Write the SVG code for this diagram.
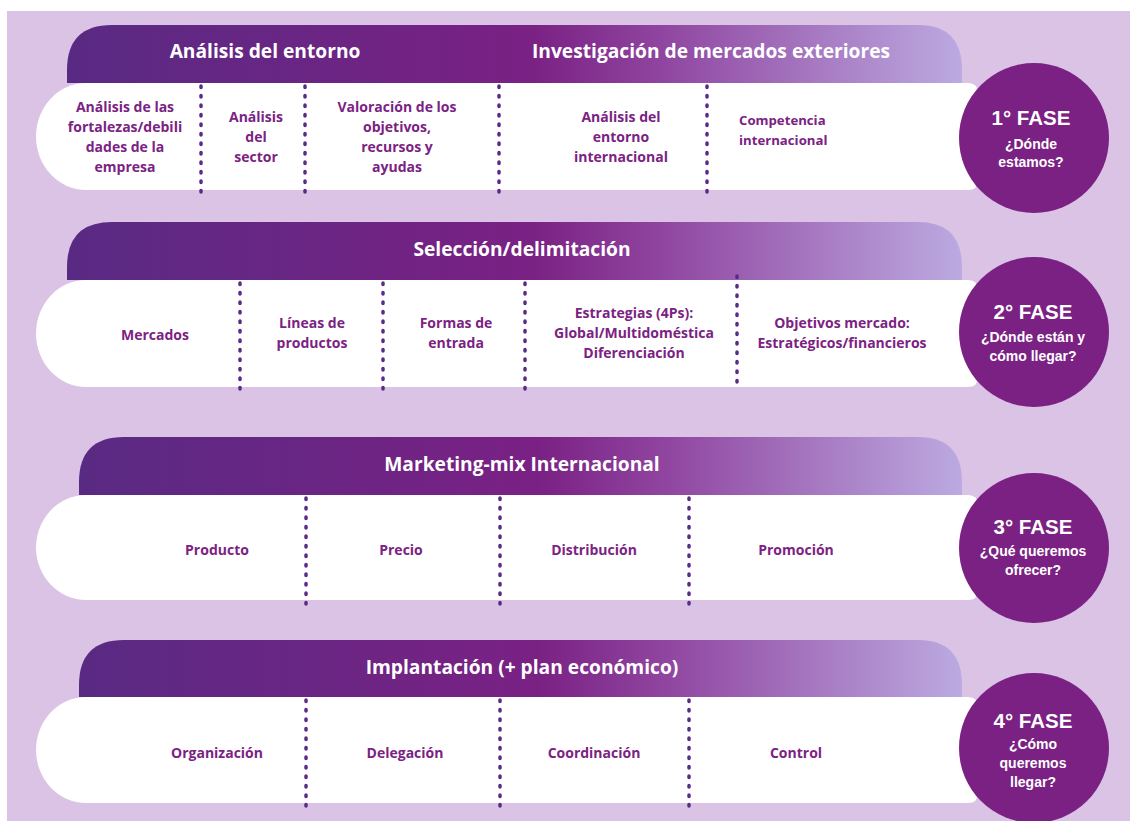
<svg xmlns="http://www.w3.org/2000/svg" width="1130" height="821" viewBox="0 0 1130 821">
<defs>
<linearGradient id="bannerGrad" x1="0" y1="0" x2="1" y2="0">
<stop offset="0" stop-color="#592a83"/>
<stop offset="0.52" stop-color="#7a2184"/>
<stop offset="0.66" stop-color="#8f449f"/>
<stop offset="1" stop-color="#bcaae1"/>
</linearGradient>
<style>
.bg{fill:#dac3e5}
.banner{fill:url(#bannerGrad)}
.pill{fill:#ffffff}
.circ{fill:#7a2183}
.div{stroke:#5a2a86;stroke-width:3.5;stroke-linecap:round;stroke-dasharray:1.5 8;fill:none}
.bt{font-family:"Open Sans","Liberation Sans",sans-serif;font-weight:700;font-size:19.2px;fill:#ffffff;text-anchor:middle}
.it{font-family:"Open Sans","Liberation Sans",sans-serif;font-weight:700;font-size:14px;fill:#7b2283;text-anchor:middle}
.ct{font-family:"Liberation Sans",Arial,sans-serif;font-weight:700;font-size:20.5px;fill:#ffffff;text-anchor:middle}
.cs{font-family:"Liberation Sans",Arial,sans-serif;font-weight:700;font-size:14px;fill:#ffffff;text-anchor:middle}
</style>
</defs>
<rect class="bg" x="7" y="11" width="1123" height="810"/>

<g id="fase1">
<path class="banner" d="M67,83 L67,70 Q67,25 112,25 L918,25 Q962,25 962,70 L962,83 Z"/>
<path class="pill" d="M86,83 L968,83 Q978,83 978,93 L978,180 Q978,190 968,190 L86,190 A50,53.5 0 0 1 86,83 Z"/>
<text class="bt" x="265" y="58">Análisis del entorno</text>
<text class="bt" x="711" y="58">Investigación de mercados exteriores</text>
<text class="it" x="125" y="112">Análisis de las</text>
<text class="it" x="125" y="132">fortalezas/debili</text>
<text class="it" x="125" y="152">dades de la</text>
<text class="it" x="125" y="172">empresa</text>
<text class="it" x="256" y="122">Análisis</text>
<text class="it" x="256" y="142">del</text>
<text class="it" x="256" y="162">sector</text>
<text class="it" x="397" y="112">Valoración de los</text>
<text class="it" x="397" y="132">objetivos,</text>
<text class="it" x="397" y="152">recursos y</text>
<text class="it" x="397" y="172">ayudas</text>
<text class="it" x="621" y="122">Análisis del</text>
<text class="it" x="621" y="142">entorno</text>
<text class="it" x="621" y="162">internacional</text>
<text class="it" x="739" y="125" style="text-anchor:start;font-size:13.2px">Competencia</text>
<text class="it" x="739" y="145" style="text-anchor:start;font-size:13.2px">internacional</text>
<circle class="circ" cx="1034" cy="138" r="75"/>
<text class="ct" x="1031" y="125">1° FASE</text>
<text class="cs" x="1031" y="149">¿Dónde</text>
<text class="cs" x="1031" y="167">estamos?</text>
</g>

<g id="fase2">
<path class="banner" d="M67,280 L67,267 Q67,222 112,222 L918,222 Q962,222 962,267 L962,280 Z"/>
<path class="pill" d="M86,280 L968,280 Q978,280 978,290 L978,377 Q978,387 968,387 L86,387 A50,53.5 0 0 1 86,280 Z"/>
<text class="bt" x="522" y="256">Selección/delimitación</text>
<text class="it" x="155" y="340">Mercados</text>
<text class="it" x="312" y="328">Líneas de</text>
<text class="it" x="312" y="348">productos</text>
<text class="it" x="456" y="328">Formas de</text>
<text class="it" x="456" y="348">entrada</text>
<text class="it" x="634" y="318">Estrategias (4Ps):</text>
<text class="it" x="634" y="338">Global/Multidoméstica</text>
<text class="it" x="634" y="358">Diferenciación</text>
<text class="it" x="842" y="328">Objetivos mercado:</text>
<text class="it" x="842" y="348">Estratégicos/financieros</text>
<circle class="circ" cx="1034" cy="332" r="75"/>
<text class="ct" x="1033" y="319">2° FASE</text>
<text class="cs" x="1033" y="342">¿Dónde están y</text>
<text class="cs" x="1033" y="361">cómo llegar?</text>
</g>

<g id="fase3">
<path class="banner" d="M79,495 L79,482 Q79,437 124,437 L918,437 Q962,437 962,482 L962,495 Z"/>
<path class="pill" d="M86,495 L968,495 Q978,495 978,505 L978,590 Q978,600 968,600 L86,600 A50,52.5 0 0 1 86,495 Z"/>
<text class="bt" x="522" y="471">Marketing-mix Internacional</text>
<text class="it" x="217" y="555">Producto</text>
<text class="it" x="401" y="555">Precio</text>
<text class="it" x="594" y="555">Distribución</text>
<text class="it" x="796" y="555">Promoción</text>
<circle class="circ" cx="1034" cy="548" r="75"/>
<text class="ct" x="1033" y="534">3° FASE</text>
<text class="cs" x="1033" y="556">¿Qué queremos</text>
<text class="cs" x="1033" y="575">ofrecer?</text>
</g>

<g id="fase4">
<path class="banner" d="M79,697 L79,685 Q79,640 124,640 L918,640 Q962,640 962,685 L962,697 Z"/>
<path class="pill" d="M86,697 L968,697 Q978,697 978,707 L978,793 Q978,803 968,803 L86,803 A50,53 0 0 1 86,697 Z"/>
<text class="bt" x="522" y="674">Implantación (+ plan económico)</text>
<text class="it" x="217" y="758">Organización</text>
<text class="it" x="405" y="758">Delegación</text>
<text class="it" x="594" y="758">Coordinación</text>
<text class="it" x="796" y="758">Control</text>
<circle class="circ" cx="1034" cy="748" r="75"/>
<text class="ct" x="1033" y="728">4° FASE</text>
<text class="cs" x="1033" y="749">¿Cómo</text>
<text class="cs" x="1033" y="768">queremos</text>
<text class="cs" x="1033" y="787">llegar?</text>
</g>

<g id="connectors">
<line class="div" x1="201" y1="86" x2="201" y2="192"/>
<line class="div" x1="305" y1="86" x2="305" y2="192"/>
<line class="div" x1="499" y1="86" x2="499" y2="192"/>
<line class="div" x1="707" y1="86" x2="707" y2="192"/>
<line class="div" x1="240" y1="283" x2="240" y2="389"/>
<line class="div" x1="383" y1="283" x2="383" y2="389"/>
<line class="div" x1="525" y1="283" x2="525" y2="389"/>
<line class="div" x1="737" y1="276" x2="737" y2="386"/>
<line class="div" x1="306" y1="498" x2="306" y2="604"/>
<line class="div" x1="500" y1="498" x2="500" y2="604"/>
<line class="div" x1="689" y1="498" x2="689" y2="604"/>
<line class="div" x1="306" y1="700" x2="306" y2="806"/>
<line class="div" x1="500" y1="700" x2="500" y2="806"/>
<line class="div" x1="689" y1="700" x2="689" y2="806"/>
</g>
</svg>
